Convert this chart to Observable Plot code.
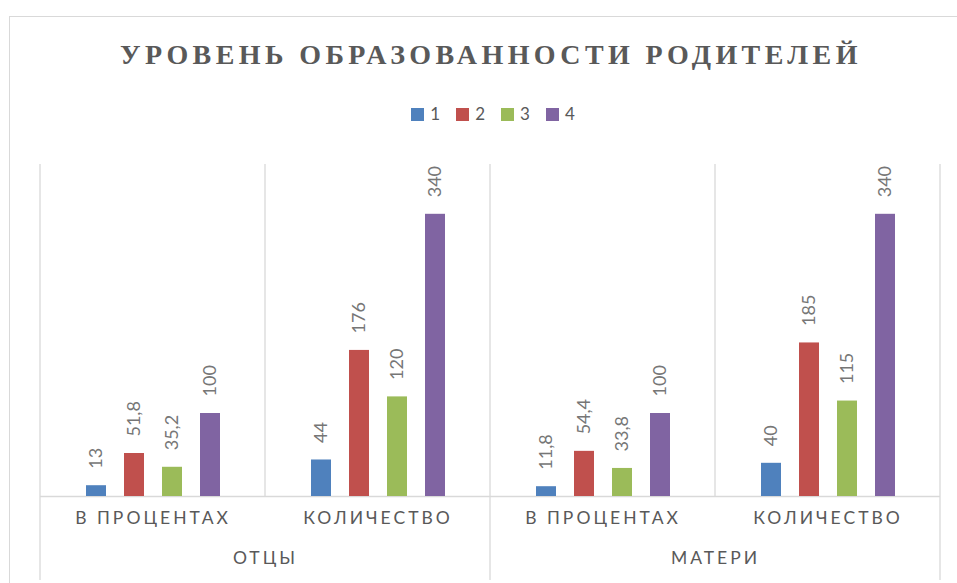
<!DOCTYPE html>
<html>
<head>
<meta charset="utf-8">
<script src="https://cdn.jsdelivr.net/npm/d3@7"></script>
<script src="https://cdn.jsdelivr.net/npm/@observablehq/plot@0.6"></script>
<style>
  html, body { margin: 0; padding: 0; background: #fff; overflow: hidden; }
  body { width: 957px; height: 583px; position: relative; }
  #frame { position: absolute; left: 9px; top: 16px; width: 1000px; height: 700px; border: 1px solid #d9d9d9; box-sizing: border-box; }
  #title { position: absolute; left: 0; top: 40.5px; width: 982px; text-align: center;
           font-family: "Liberation Serif", serif; font-weight: bold; font-size: 28px; line-height: 28px;
           letter-spacing: 4.4px; color: #595959; white-space: nowrap; }
  #legend { position: absolute; left: 0; top: 104px; width: 986px; display: flex; justify-content: center;
            font-family: Lato, sans-serif; font-size: 17px; line-height: 20px; color: #595959; }
  .item { display: inline-flex; align-items: center; margin-right: 16px; }
  .item:last-child { margin-right: 0; }
  .sw { width: 13px; height: 13px; margin-right: 6px; display: inline-block; }
  #chart { position: absolute; left: 0; top: 140px; }
  g[aria-description="inner-label"] text, g[aria-description="outer-label"] text { letter-spacing: 3px; }
</style>
</head>
<body>
<div id="frame"></div>
<div id="title">УРОВЕНЬ ОБРАЗОВАННОСТИ РОДИТЕЛЕЙ</div>
<div id="legend"></div>
<div id="chart"></div>
<script>
// ---- data ----
const groups = ["ОТЦЫ", "ОТЦЫ", "МАТЕРИ", "МАТЕРИ"];
const subcats = ["В ПРОЦЕНТАХ", "КОЛИЧЕСТВО", "В ПРОЦЕНТАХ", "КОЛИЧЕСТВО"];
const series = ["1", "2", "3", "4"];
const values1 = [13, 44, 11.8, 40];
const values2 = [51.8, 176, 54.4, 185];
const values3 = [35.2, 120, 33.8, 115];
const values4 = [100, 340, 100, 340];
const colors = ["#4F81BD", "#C0504D", "#9BBB59", "#8064A2"];

// ---- build table ----
const keys = groups.map((g, i) => g + "|" + subcats[i]);
const seriesValues = [values1, values2, values3, values4];
const rows = [];
keys.forEach((k, i) => {
  series.forEach((s, j) => {
    rows.push({key: k, group: groups[i], sub: subcats[i], series: s, value: seriesValues[j][i]});
  });
});
const cats = keys.map((k, i) => ({key: k, group: groups[i], sub: subcats[i], first: i === 0 || groups[i] !== groups[i - 1]}));
const outerLabels = cats.filter((c, i) => i > 0 && groups[i] === groups[i - 1]);

// ---- legend ----
const legend = document.getElementById("legend");
series.forEach((s, j) => {
  const it = document.createElement("span");
  it.className = "item";
  it.innerHTML = `<span class="sw" style="background:${colors[j]}"></span><span>${s}</span>`;
  legend.appendChild(it);
});

// ---- plot ----
const fmt = v => String(v).replace(".", ",");
const plot = Plot.plot({
  width: 957,
  height: 443,
  marginLeft: 39,
  marginRight: 17,
  marginTop: 24,
  marginBottom: 87,
  style: {fontFamily: "Lato, sans-serif", background: "transparent", overflow: "visible"},
  fx: {domain: keys, padding: 0, axis: null},
  x: {domain: series, paddingInner: 0.483, paddingOuter: 1.147, axis: null},
  y: {domain: [0, 400], axis: null},
  color: {domain: series, range: colors},
  marks: [
    Plot.ruleY([0], {stroke: "#d9d9d9", strokeWidth: 1.3}),
    Plot.barY(rows, {fx: "key", x: "series", y: "value", fill: "series"}),
    Plot.text(rows, {fx: "key", x: "series", y: "value", text: d => fmt(d.value), rotate: -90,
      textAnchor: "start", dy: -17, fill: "#767676", fontSize: 18}),
    Plot.text(cats, {fx: "key", text: "sub", frameAnchor: "bottom", dy: 27, dx: 0, fill: "#595959",
      fontSize: 17.5, ariaDescription: "inner-label"}),
    Plot.text(outerLabels, {fx: "key", text: "group", frameAnchor: "bottom-left", textAnchor: "middle",
      dy: 67, dx: 0, fill: "#595959", fontSize: 17.5, ariaDescription: "outer-label"})
  ]
});
document.getElementById("chart").appendChild(plot);

// ---- vertical separators from the fx scale ----
const fx = plot.scale("fx");
const yTop = 24, yBase = 443 - 87, yBottom = 440;
const svg = d3.select(plot);
const lines = [];
cats.forEach(c => {
  const x = fx.apply(c.key);
  lines.push({x, y2: c.first ? yBottom : yBase});
});
lines.push({x: fx.apply(keys[keys.length - 1]) + fx.bandwidth, y2: yBottom});
svg.insert("g", ":first-child")
  .attr("aria-label", "separators")
  .selectAll("line").data(lines).join("line")
  .attr("x1", d => d.x).attr("x2", d => d.x)
  .attr("y1", yTop).attr("y2", d => d.y2)
  .attr("stroke", "#d9d9d9").attr("stroke-width", 1.3);
</script>
</body>
</html>
